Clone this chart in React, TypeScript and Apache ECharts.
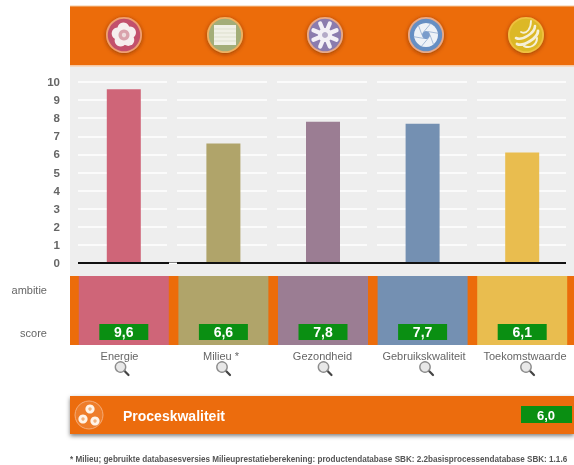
import React, { useEffect, useRef } from "react";
import * as echarts from "echarts";

const categories = ["Energie", "Milieu *", "Gezondheid", "Gebruikskwaliteit", "Toekomstwaarde"];
const scores = [9.6, 6.6, 7.8, 7.7, 6.1];
const tileValues = [1, 1, 1, 1, 1];
const colors = ["#cf6578", "#b0a46a", "#9b7d93", "#7490b2", "#e9bd4f"];
const yTicks = [0, 1, 2, 3, 4, 5, 6, 7, 8, 9, 10];
const rowLabels = ["ambitie", "score"];
const processLabel = "Proceskwaliteit";
const processScore = "6,0";
const footnote = "* Milieu; gebruikte databasesversies Milieuprestatieberekening: productendatabase SBK: 2.2basisprocessendatabase SBK: 1.1.6";

const FONT = "'Liberation Sans', Arial, sans-serif";
const ORANGE = "#ec6c0a";
const GREY = "#eeeeee";
const GREEN = "#0a8f12";
const fmt = (v: number) => v.toFixed(1).replace(".", ",");

const circle = (cx: number, cy: number, r: number, style: any, z = 5) => ({ type: "circle", z, shape: { cx, cy, r }, style });
const rect = (x: number, y: number, width: number, height: number, fill: string, z = 1, extra: any = {}) => ({
  type: "rect", z, shape: { x, y, width, height }, style: { fill, ...extra },
});
const seg = (x1: number, y1: number, x2: number, y2: number, stroke: string, lineWidth: number, z = 6) => ({
  type: "line", z, shape: { x1, y1, x2, y2 }, style: { stroke, lineWidth, lineCap: "round" },
});

function badge(cx: number, cy: number, rim: string, fill: string) {
  return [
    circle(cx, cy, 18, { fill: rim, shadowBlur: 4, shadowColor: "rgba(90,30,0,0.6)", shadowOffsetY: 1 }),
    circle(cx, cy, 16.2, { fill }),
  ];
}

function icons() {
  const out: any[] = [];
  const cy = 35;
  // flower
  out.push(...badge(124, cy, "#ef9f72", "#c2506c"));
  for (let i = 0; i < 5; i++) {
    const a = (i * 2 * Math.PI) / 5 - 0.4;
    out.push(circle(124 + 6.5 * Math.cos(a), cy + 6.5 * Math.sin(a), 6, { fill: "#f6eeee" }, 6));
  }
  out.push(circle(124, cy, 8, { fill: "#f6eeee" }, 6), circle(124, cy, 5.5, { fill: "#d9a3ac" }, 7), circle(124, cy, 2.2, { fill: "#eedcdc" }, 8));
  // bricks
  out.push(...badge(225, cy, "#f0b060", "#a3ad78"));
  out.push(rect(214, 25, 22, 20, "#f0f0e6", 6));
  [29, 33, 37, 41].forEach((y) => out.push(seg(214.5, y, 235.5, y, "#d6d9c2", 0.7, 7)));
  // snowflake
  out.push(...badge(325, cy, "#e9a987", "#8b7cae"));
  for (let i = 0; i < 8; i++) {
    const a = (i * Math.PI) / 4 + Math.PI / 8;
    out.push(seg(325 + 4 * Math.cos(a), cy + 4 * Math.sin(a), 325 + 12.5 * Math.cos(a), cy + 12.5 * Math.sin(a), "#f3f0f6", 4.2));
  }
  out.push(circle(325, cy, 7, { fill: "#f3f0f6" }, 7), circle(325, cy, 3, { fill: "#b4aac8" }, 8));
  // aperture
  out.push(...badge(426, cy, "#e9a987", "#668fc3"));
  out.push(circle(426, cy, 12, { fill: "#eef2f7" }, 6));
  for (let i = 0; i < 6; i++) {
    const a = (i * Math.PI) / 3;
    out.push(seg(426 + 4 * Math.cos(a), cy + 4 * Math.sin(a), 426 + 12 * Math.cos(a + 0.9), cy + 12 * Math.sin(a + 0.9), "#9db4d4", 0.9, 7));
  }
  out.push(circle(426, cy, 4, { fill: "#7a9ccb" }, 8));
  // striped sphere
  out.push(...badge(526, cy, "#f0c040", "#dcb826"));
  [[-5, 0, 5, -11, 1.8], [-10, 6, 9, -6, 2.6], [-9, 12, 12, -1, 2.8], [-2, 14, 11, 6, 2]].forEach(([a, b, c, d, w]) =>
    out.push({
      type: "bezierCurve", z: 6,
      shape: { x1: 526 + a, y1: cy + b - 3, x2: 526 + c, y2: cy + d - 3, cpx1: 526 + a + 6, cpy1: cy + b, cpx2: 526 + c, cpy2: cy + d + 4 },
      style: { stroke: "#f5f0d8", lineWidth: w, fill: "none", lineCap: "round" },
    })
  );
  // gears (process)
  out.push(circle(89, 415, 14, { fill: "#ee7d2a", stroke: "#f4ab78", lineWidth: 1 }));
  ([[90, 409], [83, 419], [95, 421]] as number[][]).forEach(([x, y]) => {
    out.push(circle(x, y, 4.6, { fill: "#fff4e8" }, 6), circle(x, y, 1.7, { fill: "#f2b27e" }, 7));
  });
  return out;
}

const labelX = [119.5, 221, 322.5, 424, 525];
function magnifiers() {
  const out: any[] = [];
  labelX.forEach((x) => {
    out.push(seg(x + 4.8, 370.8, x + 9, 375, "#444444", 2.2));
    out.push(circle(x + 1, 367, 5.2, { fill: "#e8e8e8", stroke: "#8d8d8d", lineWidth: 1.4 }, 7));
  });
  return out;
}

function graphics() {
  const gaps = [167, 267, 367, 467].map((x) => rect(x, 70, 10, 191, GREY, 1));
  return [
    rect(70, 66, 504, 210, GREY, -2),
    rect(70, 6, 504, 59.5, ORANGE, 0),
    rect(70, 5.5, 504, 1, "#f4c9a0", 0),
    rect(70, 65.5, 504, 1.5, "#f6d9c0", 0),
    rect(70, 276, 504, 69, ORANGE, -1),
    ...gaps,
    rect(70, 70, 8, 198, GREY, 4),
    rect(566, 70, 8, 198, GREY, 4),
    rect(169, 262.5, 8, 1.5, "#ffffff", 4),
    ...rowLabels.map((t, i) => ({
      type: "text", z: 5, x: 47, y: i === 0 ? 290 : 333,
      style: { text: t, fill: "#666666", font: `11px ${FONT}`, textAlign: "right", textVerticalAlign: "middle" },
    })),
    ...categories.map((t, i) => ({
      type: "text", z: 5, x: labelX[i], y: 355.5,
      style: { text: t, fill: "#666666", font: `11px ${FONT}`, textAlign: "center", textVerticalAlign: "middle" },
    })),
    rect(70, 396, 504, 38, ORANGE, 2, { shadowBlur: 4, shadowColor: "rgba(0,0,0,0.5)", shadowOffsetY: 2 }),
    { type: "text", z: 5, x: 123, y: 415.5, style: { text: processLabel, fill: "#fff", font: `bold 14px ${FONT}`, textVerticalAlign: "middle" } },
    rect(521, 406, 51, 17, GREEN, 4),
    { type: "text", z: 5, x: 546, y: 415, style: { text: processScore, fill: "#fff", font: `bold 13px ${FONT}`, textAlign: "center", textVerticalAlign: "middle" } },
    { type: "text", z: 5, x: 70, y: 459, style: { text: footnote, fill: "#555555", font: `bold 8.15px ${FONT}`, textVerticalAlign: "middle" } },
    ...icons(),
    ...magnifiers(),
  ];
}

export default function App() {
  const ref = useRef<HTMLDivElement>(null);
  useEffect(() => {
    const chart = echarts.init(ref.current!, undefined, { renderer: "svg" });
    chart.setOption({
      animation: false,
      backgroundColor: "#ffffff",
      textStyle: { fontFamily: FONT },
      grid: [
        { left: 74, width: 498, top: 82, height: 181 },
        { left: 74, width: 498, top: 276, height: 69 },
      ],
      xAxis: [
        {
          type: "category", gridIndex: 0, data: categories, z: 3,
          axisLine: { show: true, onZero: false, lineStyle: { color: "#111111", width: 2 } },
          axisTick: { show: false }, axisLabel: { show: false },
        },
        {
          type: "category", gridIndex: 1, data: categories,
          axisLine: { show: false }, axisTick: { show: false }, axisLabel: { show: false },
        },
      ],
      yAxis: [
        {
          type: "value", gridIndex: 0, min: 0, max: 10, interval: 1,
          axisLine: { show: false }, axisTick: { show: false },
          axisLabel: { margin: 14, color: "#666666", fontSize: 11.5, fontWeight: "bold", fontFamily: FONT,
            formatter: (v: number) => (yTicks.includes(v) ? String(v) : "") },
          splitLine: { show: true, lineStyle: { color: "#ffffff", width: 1.5 } },
        },
        { type: "value", gridIndex: 1, min: 0, max: 1, show: false, splitLine: { show: false } },
      ],
      series: [
        {
          type: "bar", xAxisIndex: 0, yAxisIndex: 0, barWidth: 34, z: 2,
          data: scores.map((v, i) => ({ value: v, itemStyle: { color: colors[i] } })),
        },
        {
          type: "bar", xAxisIndex: 1, yAxisIndex: 1, barWidth: 90, z: 2,
          data: tileValues.map((v, i) => ({ value: v, itemStyle: { color: colors[i] } })),
          label: {
            show: true, position: "insideBottom", distance: 5,
            formatter: (p: any) => fmt(scores[p.dataIndex]),
            color: "#ffffff", fontSize: 14, fontWeight: "bold", fontFamily: FONT,
            backgroundColor: GREEN, width: 49, height: 16, lineHeight: 16, align: "center",
          },
        },
      ],
      graphic: { elements: graphics() },
    });
    return () => chart.dispose();
  }, []);
  return (
    <div
      ref={ref}
      style={{ position: "absolute", left: 0, top: 0, width: 574, height: 465, filter: "blur(0.5px)" }}
    />
  );
}
